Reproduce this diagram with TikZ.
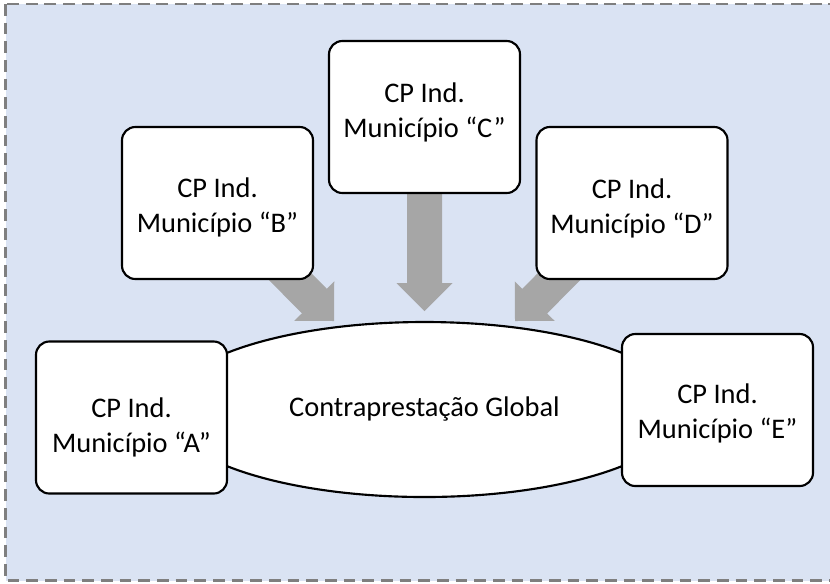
\documentclass[tikz,border=0pt]{standalone}
\usepackage{fontspec}
\setmainfont{Carlito}
\usetikzlibrary{shapes.geometric,calc}

\definecolor{panelblue}{HTML}{DAE3F3}
\definecolor{framegray}{HTML}{7F7F7F}
\definecolor{arrowgray}{HTML}{A6A6A6}

\pgfdeclarelayer{panel}
\pgfdeclarelayer{under}
\pgfsetlayers{panel,under,main}

% wide block arrow from #1 (hidden end) to the tip coordinate #2
\newcommand\blockarrow[2]{%
  \coordinate (#2base) at ($(#2)!21pt!(#1)$);
  \fill[arrowgray]
    ($(#1)!13.125pt!90:(#2)$) --
    ($(#2base)!13.125pt!90:(#2)$) --
    ($(#2base)!21pt!90:(#2)$) --
    (#2) --
    ($(#2base)!21pt!-90:(#2)$) --
    ($(#2base)!13.125pt!-90:(#2)$) --
    ($(#1)!13.125pt!-90:(#2)$) -- cycle;
}

\tikzset{
  cpbox/.style={draw=black, line width=1.6pt, fill=white, rounded corners=10pt,
    minimum width=143.25pt, minimum height=114pt, inner sep=0pt},
  cptext/.style={align=center, inner sep=0pt,
    font=\fontsize{21.3pt}{26.25pt}\selectfont},
  globalshape/.style={ellipse, draw=black, line width=1.6pt, fill=white,
    minimum width=388.5pt, minimum height=131.25pt, inner sep=0pt,
    font=\fontsize{21.3pt}{26.25pt}\selectfont},
}

\begin{document}
\begin{tikzpicture}[x=0.75pt,y=-0.75pt]
  \useasboundingbox (0,0) rectangle (830,583);
  \clip (0,0) rectangle (830,583);

  % dashed panel behind everything
  \begin{pgfonlayer}{panel}
    \fill[panelblue] (5.5,4) rectangle (845,580.5);
    \draw[framegray, line width=1.9pt, dash pattern=on 8.8pt off 5.2pt]
      (5.5,4) rectangle (845,580.5);
  \end{pgfonlayer}

  % individual boxes
  \node[cpbox] (a) at (131.5,417.5) {};
  \node[cpbox] (b) at (217.5,203) {};
  \node[cpbox] (c) at (424.5,117) {};
  \node[cpbox] (d) at (632,203) {};
  \node[cpbox] (e) at (717.5,410) {};

  \node[cptext] (ta) at (131.5,427) {CP Ind.\\Município “A”};
  \node[cptext] (tb) at (217.5,207) {CP Ind.\\Município “B”};
  \node[cptext] (tc) at (424.5,112.5) {CP Ind.\\Município “C”};
  \node[cptext] (td) at (632,208) {CP Ind.\\Município “D”};
  \node[cptext] (te) at (717.5,413.3) {CP Ind.\\Município “E”};

  % arrow tips above the ellipse
  \coordinate (tipB) at (334,321);
  \coordinate (tipC) at (424.5,311);
  \coordinate (tipD) at (515,321);

  \begin{pgfonlayer}{under}
    \node[globalshape] (g) at (424.5,409.5) {Contraprestação Global};
    \blockarrow{b.center}{tipB}
    \blockarrow{c.center}{tipC}
    \blockarrow{d.center}{tipD}
  \end{pgfonlayer}
\end{tikzpicture}
\end{document}
